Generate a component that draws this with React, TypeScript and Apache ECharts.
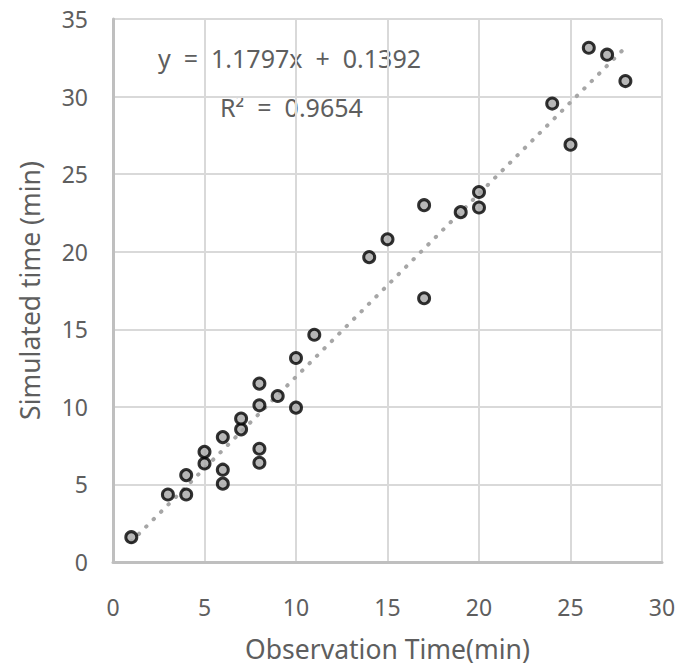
import React, { useEffect, useRef } from "react";
import * as echarts from "echarts";

const obsTime = [1, 3, 4, 4, 5, 5, 6, 6, 6, 7, 7, 8, 8, 8, 8, 9, 10, 10, 11, 14, 15, 17, 17, 19, 20, 20, 24, 25, 26, 27, 28];
const simTime = [1.6, 4.35, 4.35, 5.6, 6.35, 7.1, 5.05, 5.95, 8.05, 8.55, 9.25, 10.1, 11.5, 7.3, 6.4, 10.7, 9.95, 13.15, 14.65, 19.65, 20.8, 23.0, 17.0, 22.55, 23.85, 22.85, 29.55, 26.9, 33.15, 32.7, 31.0];
const trendX = [1, 28];
const trendY = [1.32, 33.17];
const equationText = "y\u00A0\u00A0=\u00A0\u00A01.1797x\u00A0\u00A0+\u00A0\u00A00.1392";
const r2Text = "R²\u00A0\u00A0=\u00A0\u00A00.9654";
const xAxisName = "Observation Time(min)";
const yAxisName = "Simulated time (min)";

export default function App() {
  const ref = useRef<HTMLDivElement>(null);
  useEffect(() => {
    if (!ref.current) return;
    const chart = echarts.init(ref.current, undefined, { renderer: "svg" });
    const font = "Noto Sans";
    const textColor = "#5e5e5e";
    chart.setOption({
      animation: false,
      backgroundColor: "#ffffff",
      textStyle: { fontFamily: font },
      grid: { left: 113, right: 29, top: 19, bottom: 105 },
      xAxis: {
        type: "value",
        min: 0,
        max: 30,
        interval: 5,
        name: xAxisName,
        nameLocation: "middle",
        nameGap: 73,
        nameTextStyle: { fontSize: 26.5, color: textColor, fontFamily: font },
        axisLine: { show: true, lineStyle: { color: "#bfbfbf", width: 3 } },
        axisTick: { show: false },
        axisLabel: { fontSize: 23, color: textColor, margin: 33, fontFamily: font },
        splitLine: { show: true, lineStyle: { color: "#d9d9d9", width: 2 } },
      },
      yAxis: {
        type: "value",
        min: 0,
        max: 35,
        interval: 5,
        name: yAxisName,
        nameLocation: "middle",
        nameGap: 70,
        nameTextStyle: { fontSize: 26.5, color: textColor, fontFamily: font },
        axisLine: { show: true, lineStyle: { color: "#bfbfbf", width: 3 } },
        axisTick: { show: false },
        axisLabel: { fontSize: 23, color: textColor, margin: 25, fontFamily: font },
        splitLine: { show: true, lineStyle: { color: "#d9d9d9", width: 2 } },
      },
      series: [
        {
          type: "line",
          data: trendX.map((x, i) => [x, trendY[i]]),
          symbol: "none",
          lineStyle: { color: "#a6a6a6", width: 4, type: [0.5, 10], cap: "round" },
          z: 2,
        },
        {
          type: "scatter",
          data: obsTime.map((x, i) => [x, simTime[i]]),
          symbol: "circle",
          symbolSize: 11,
          itemStyle: { color: "#a5a5a5", borderColor: "#000000", borderWidth: 3 },
          z: 3,
        },
      ],
      graphic: [
        {
          type: "text",
          left: 158,
          top: 45,
          style: { text: equationText, fontSize: 25, fill: textColor, fontFamily: font },
        },
        {
          type: "text",
          left: 220,
          top: 94,
          style: { text: r2Text, fontSize: 25, fill: textColor, fontFamily: font },
        },
      ],
    });
    return () => chart.dispose();
  }, []);
  return (
    <div
      ref={ref}
      style={{ position: "absolute", left: 0, top: 0, width: 691, height: 667 }}
    />
  );
}
